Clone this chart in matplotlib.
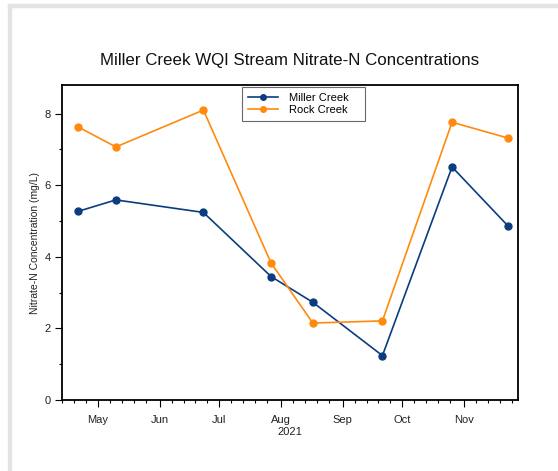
import numpy as np
import matplotlib
matplotlib.use('Agg')
import matplotlib.pyplot as plt
import matplotlib.dates as mdates
from matplotlib.ticker import MultipleLocator

plt.rcParams['font.family'] = ['Liberation Sans', 'DejaVu Sans']

# sampling dates (2021) and nitrate-N values, mg/L
dates = np.array(['2021-04-21', '2021-05-10', '2021-06-23', '2021-07-27',
                  '2021-08-17', '2021-09-21', '2021-10-26', '2021-11-23'],
                 dtype='datetime64[D]')
miller = [5.27, 5.59, 5.24, 3.45, 2.73, 1.24, 6.51, 4.87]
rock = [7.63, 7.07, 8.10, 3.83, 2.15, 2.21, 7.76, 7.32]

fig = plt.figure(figsize=(5.58, 4.71), dpi=100)

# light grey frame on the top and left edges
fig.patches.append(plt.Rectangle((8 / 558., 0), 3 / 558., 1 - 4 / 471.,
                                 transform=fig.transFigure, color='#e3e3e3', zorder=-1))
fig.patches.append(plt.Rectangle((8 / 558., 1 - 7 / 471.), 1, 3 / 471.,
                                 transform=fig.transFigure, color='#e3e3e3', zorder=-1))

ax = fig.add_axes([61.5 / 558., 1 - 400 / 471., (517.7 - 61.5) / 558., (400 - 85) / 471.])

ax.plot(dates, miller, '-o', color='#0b3d7e', lw=1.2, ms=5, label='Miller Creek')
ax.plot(dates, rock, '-o', color='#ff8a0d', lw=1.2, ms=5, label='Rock Creek')

ax.set_xlim(np.datetime64('2021-04-12T16:00'), np.datetime64('2021-11-28'))
ax.set_ylim(0, 8.8)

ax.xaxis.set_major_locator(mdates.MonthLocator())
ax.xaxis.set_major_formatter(mdates.DateFormatter('%b'))
ax.xaxis.set_minor_locator(mdates.DayLocator(bymonthday=[7, 13, 19, 25]))
ax.yaxis.set_major_locator(MultipleLocator(2))
ax.yaxis.set_minor_locator(MultipleLocator(1))
ax.tick_params(which='major', length=5, width=0.8, labelsize=8, pad=6, labelcolor='#222222')
ax.tick_params(which='minor', length=2.5, width=0.8)
ax.tick_params(axis='y', which='major', pad=3)
for s in ax.spines.values():
    s.set_linewidth(1.3)

ax.set_xlabel('2021', fontsize=8, labelpad=1, color='#222222')
ax.set_ylabel('Nitrate-N Concentration (mg/L)', fontsize=7.5, color='#222222')
ax.yaxis.set_label_coords(-0.047, 0.5)
fig.text(289.6 / 558., 1 - 60 / 471., 'Miller Creek WQI Stream Nitrate-N Concentrations',
         ha='center', va='center', fontsize=12.2, color='#111111')

leg = ax.legend(loc='upper left', bbox_to_anchor=(0.395, 0.5, 0.2703, 0.4946),
                mode='expand', fontsize=8, frameon=True, fancybox=False,
                edgecolor='#444444', markerscale=0.8, borderpad=0.55,
                labelspacing=0.2, handlelength=2.7, borderaxespad=0,
                handletextpad=1.0)
leg.get_frame().set_linewidth(0.8)

fig.savefig('out.png', dpi=100)
